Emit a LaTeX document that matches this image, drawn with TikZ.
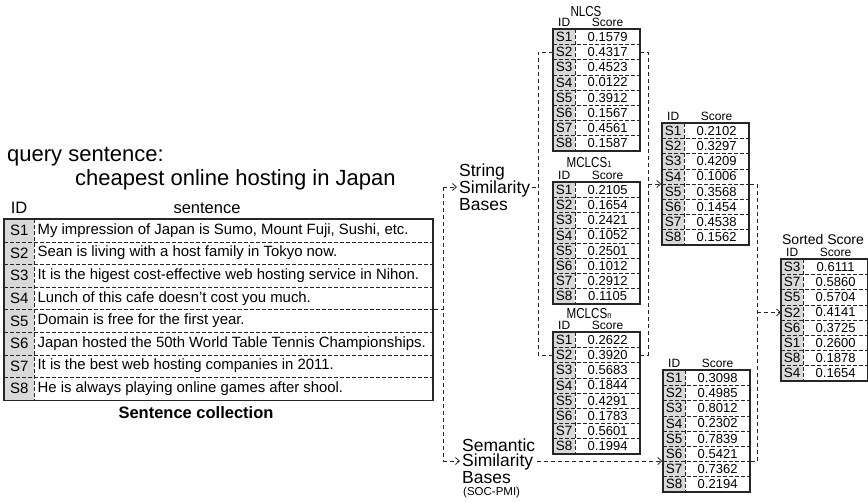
\documentclass[tikz,border=0pt]{standalone}
\usepackage{fontspec}
\setmainfont{Liberation Sans}
\usetikzlibrary{arrows.meta,calc,positioning,fit}

\newcommand\fsz[1]{\fontsize{#1}{#1}\selectfont}
\newcommand\rowh{15.2}

% one score table: name, left, top, list of id/score
\newcommand\scoretab[4]{%
  \foreach \sid/\sval [count=\i] in {#4} {
    \node[idcell] (#1-\i) at (#2,{#3+(\i-1)*\rowh}) {\sid};
    \node[valcell, anchor=west] (#1-v\i) at (#1-\i.east) {\sval};
  }
  \foreach \i in {1,...,7} \draw[sep] (#1-\i.south west) -- (#1-v\i.south east);
  \draw[sep] (#1-1.north east) -- (#1-8.south east);
  \node[tabframe, fit=(#1-1)(#1-v8)] (#1) {};
  \node[hdr, above=2.5pt of #1-1] (#1-hid) {ID};
  \node[hdr, above=2.5pt of #1-v1] (#1-hsc) {Score};
}

\begin{document}
\begin{tikzpicture}[
  x=1pt, y=-1pt,
  idcell/.style={fill=black!15, minimum width=22pt, minimum height=\rowh pt, inner sep=0pt, anchor=north west, font=\fsz{13.5}},
  valcell/.style={minimum width=64pt, minimum height=\rowh pt, inner sep=0pt, font=\fsz{13}},
  sidcell/.style={fill=black!15, minimum width=30pt, minimum height=22.6pt, inner sep=0pt, anchor=north west, font=\fsz{15}},
  scell/.style={minimum width=398pt, inner xsep=3pt, inner ysep=0pt, minimum height=22.6pt, font=\fsz{14.9}},
  sep/.style={draw=black!85, line width=0.75pt, dash pattern=on 3.5pt off 2.5pt},
  tabframe/.style={draw=black!85, line width=1.4pt, inner sep=0pt},
  hdr/.style={inner sep=0pt, font=\fsz{12}},
  ttl/.style={inner sep=0pt, font=\fsz{14.5}},
  lbl/.style={align=left, inner sep=2pt, font=\fontsize{17.5}{15.5}\selectfont},
  link/.style={draw=black!85, line width=0.8pt, dash pattern=on 4pt off 3pt},
  feed/.style={link, -{Straight Barb[length=4pt, width=7pt]}}
]
\useasboundingbox (0,0) rectangle (868,501);

% query and sentence collection
\node[anchor=west, inner sep=0pt, font=\fsz{22}] (qlab) at (7,157) {query sentence:};
\node[anchor=west, inner sep=0pt, font=\fsz{22}] (query) at (75,180) {cheapest online hosting in Japan};
\node[inner sep=0pt, font=\fsz{16.5}] (hid) at (19,208) {ID};
\node[inner sep=0pt, font=\fsz{16.5}] (hsent) at (207,208) {sentence};

\foreach \sid/\stext [count=\i] in {
  {S1/My impression of Japan is Sumo, Mount Fuji, Sushi, etc.},
  {S2/Sean is living with a host family in Tokyo now.},
  {S3/It is the higest cost-effective web hosting service in Nihon.},
  {S4/Lunch of this cafe doesn’t cost you much.},
  {S5/Domain is free for the first year.},
  {S6/Japan hosted the 50th World Table Tennis Championships.},
  {S7/It is the best web hosting companies in 2011.},
  {S8/He is always playing online games after shool.}} {
  \node[sidcell] (s-\i) at (4,{219+(\i-1)*22.6}) {\sid};
  \node[scell, anchor=west] (s-t\i) at (s-\i.east) {\makebox[392pt][l]{\stext}};
}
\foreach \i in {1,...,7} \draw[sep] (s-\i.south west) -- (s-t\i.south east);
\draw[sep] (s-1.north east) -- (s-8.south east);
\node[tabframe, fit=(s-1)(s-t8)] (sent) {};
\node[inner sep=0pt, font=\fsz{16.5}\bfseries] (coll) at (196,413) {Sentence collection};

% similarity bases
\node[lbl, anchor=west] (str) at (457,187) {String\\Similarity\\Bases};
\node[lbl, anchor=west] (sem) at (460,461) {Semantic\\Similarity\\Bases};
\node[anchor=north west, inner sep=0pt, font=\fsz{11.5}] (socpmi) at (463,487) {(SOC-PMI)};

% score tables
\scoretab{nlcs}{553}{29}{S1/0.1579,S2/0.4317,S3/0.4523,S4/0.0122,S5/0.3912,S6/0.1567,S7/0.4561,S8/0.1587}
\scoretab{mclcs1}{553}{182}{S1/0.2105,S2/0.1654,S3/0.2421,S4/0.1052,S5/0.2501,S6/0.1012,S7/0.2912,S8/0.1105}
\scoretab{mclcsn}{553}{332}{S1/0.2622,S2/0.3920,S3/0.5683,S4/0.1844,S5/0.4291,S6/0.1783,S7/0.5601,S8/0.1994}
\scoretab{mid}{662}{123}{S1/0.2102,S2/0.3297,S3/0.4209,S4/0.1006,S5/0.3568,S6/0.1454,S7/0.4538,S8/0.1562}
\scoretab{soc}{663}{370}{S1/0.3098,S2/0.4985,S3/0.8012,S4/0.2302,S5/0.7839,S6/0.5421,S7/0.7362,S8/0.2194}
\scoretab{sorted}{781}{259}{S3/0.6111,S7/0.5860,S5/0.5704,S2/0.4141,S6/0.3725,S1/0.2600,S8/0.1878,S4/0.1654}

\node[ttl] (nlcs-t) at (586,12) {\scalebox{0.8}[1]{NLCS}};
\node[ttl] (mclcs1-t) at (589,163) {\scalebox{0.8}[1]{MCLCS{\fsz{9}1}}};
\node[ttl] (mclcsn-t) at (589,314) {\scalebox{0.8}[1]{MCLCS{\fsz{9}n}}};
\node[ttl, font=\fsz{14}] (sorted-t) at (823,239) {Sorted Score};

% buses
\coordinate (lbus) at (443,0);
\coordinate (sbus) at (538,0);
\coordinate (cbus) at (648,0);
\coordinate (fbus) at (757,0);

\draw[link] (sent.east) -- (sent.east -| lbus);
\draw[link] (str.west -| lbus) -- (sem.west -| lbus);
\draw[feed] (str.west -| lbus) -- (str.west);
\draw[feed] (sem.west -| lbus) -- (sem.west);

\draw[link] (str.east) -- (str.east -| sbus);
\draw[link] (nlcs-2.west) -| (sbus |- mclcsn-2.west) -- (mclcsn-2.west);

\draw[link] (nlcs-v2.east) -| (cbus |- mclcsn-v2.east) -- (mclcsn-v2.east);
\draw[feed] (mid.west -| cbus) -- (mid.west);

\draw[feed] (sem.east) -- (sem.east -| soc.west);
\draw[link] (mid.east) -| (fbus |- sem.east) -- (sem.east -| soc.east);
\draw[feed] (fbus |- sorted-4.west) -- (sorted-4.west);

\end{tikzpicture}
\end{document}
